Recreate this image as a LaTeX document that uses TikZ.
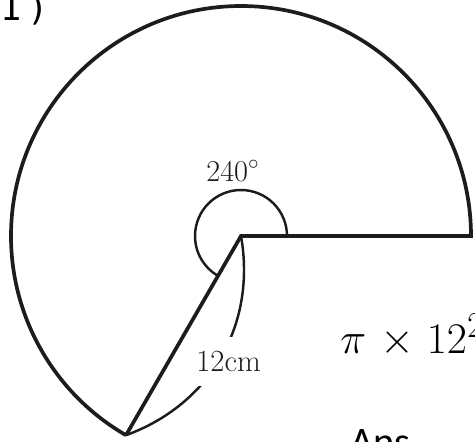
\documentclass[tikz,border=0pt]{standalone}
\usepackage{fontspec}
\usepackage{amsmath}
\newfontfamily\monofont{DejaVu Sans Mono}
\newfontfamily\ansfont{Carlito}
\usetikzlibrary{calc}
\definecolor{ink}{RGB}{30, 27, 28}

\begin{document}
\begin{tikzpicture}[x=0.02cm, y=0.02cm,
        edge/.style={draw=ink, line width=2.1pt, line join=miter},
        thin/.style={draw=ink, line width=1.4pt},
        lab/.style={font=\fontsize{17.5}{21}\selectfont, text=ink}]
        \useasboundingbox (0,0) rectangle (475,441);
        % centre and the two ends of the sector
        \coordinate (O) at (241,205);
        \coordinate (R) at (471,205);
        \coordinate (P) at ($(O)+(240:230)$);
        \draw[edge] (P) -- (O) -- (R) arc[start angle=0, end angle=240, radius=230];
        \draw[thin] ($(O)+(46,0)$) arc[start angle=0, end angle=240, radius=46];
        \node[lab, anchor=base] (ang) at (233,260) {$240^\circ$};
        % radius mark
        \draw[thin] (O) to[bend left=40] node[lab, pos=0.52, xshift=0.2cm, fill=white, inner xsep=2pt, inner ysep=0.28cm] (len) {12cm} (P);
        % working beside the figure
        \node[anchor=base west, inner sep=0, font=\monofont\fontsize{20}{24}\selectfont] (num) at (0,421) {1\,)};
        \node[anchor=base west, inner sep=0, font=\fontsize{28}{34}\selectfont] (work) at (340,88) {$\pi\mkern2mu\times\mkern1mu 12^2$};
        \node[anchor=base west, inner sep=0, font=\ansfont\fontsize{23}{28}\selectfont] (ans) at (350,-14) {Ans};
    \end{tikzpicture}
\end{document}
